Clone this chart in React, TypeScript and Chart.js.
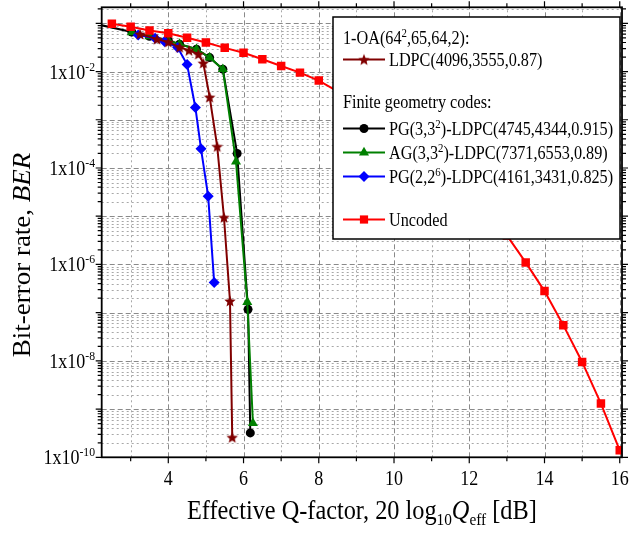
import React, { useEffect, useRef } from 'react';
import { Chart, registerables } from 'chart.js';
Chart.register(...registerables);

// ---------- data (Q-factor in dB, BER) ----------
const uncodedQ = [2.5, 3, 3.5, 4, 4.5, 5, 5.5, 6, 6.5, 7, 7.5, 8, 8.5, 9, 9.5, 10, 10.5, 11, 11.5, 12, 12.5, 13, 13.5, 14, 14.5, 15, 15.5, 16];
const uncodedBER = [9.8e-2, 8.5e-2, 7.1e-2, 6.2e-2, 5.0e-2, 4.0e-2, 3.1e-2, 2.45e-2, 1.8e-2, 1.3e-2, 9.5e-3, 6.5e-3, 3.9e-3, 2.4e-3, 1.4e-3, 7.8e-4, 4.0e-4, 1.9e-4, 8.6e-5, 3.4e-5, 1.2e-5, 4.0e-6, 1.1e-6, 2.8e-7, 5.5e-8, 9.5e-9, 1.3e-9, 1.4e-10];

const oaQ = [3.25, 3.7, 4.0, 4.3, 4.55, 4.8, 4.93, 5.1, 5.3, 5.48, 5.64, 5.7];
const oaBER = [6.0e-2, 4.7e-2, 4.1e-2, 3.2e-2, 2.75e-2, 2.3e-2, 1.5e-2, 2.95e-3, 2.8e-4, 9.5e-6, 1.75e-7, 2.6e-10];

const pg33Q = [2.0, 3.03, 3.5, 4.0, 4.3, 4.75, 5.1, 5.45, 5.83, 6.12, 6.18];
const pg33BER = [1.0e-1, 6.6e-2, 5.4e-2, 4.4e-2, 3.7e-2, 2.9e-2, 1.95e-2, 1.12e-2, 2.0e-4, 1.17e-7, 3.2e-10];

const ag33Q = [3.03, 3.5, 4.0, 4.3, 4.75, 5.1, 5.45, 5.8, 6.1, 6.25];
const ag33BER = [6.5e-2, 5.4e-2, 4.4e-2, 3.7e-2, 2.9e-2, 1.95e-2, 1.12e-2, 1.35e-4, 1.66e-7, 5.1e-10];

const pg26Q = [3.2, 3.65, 3.9, 4.25, 4.5, 4.72, 4.87, 5.06, 5.22];
const pg26BER = [5.75e-2, 4.9e-2, 4.2e-2, 3.15e-2, 1.4e-2, 1.8e-3, 2.5e-4, 2.6e-5, 4.2e-7];

const xTickLabels = ['4', '6', '8', '10', '12', '14', '16'];
const yTickExps = ['-2', '-4', '-6', '-8', '-10'];

// ---------- styling ----------
const RED = '#ff0000';
const DRED = '#800000';
const GREEN = '#008000';
const BLUE = '#0000ff';
const BLACK = '#000000';
const SERIF = '"Liberation Serif", "Times New Roman", serif';
const SQ = 0.9; // horizontal text squeeze

type Part = { t: string; s: number; it?: boolean; dy?: number };
const fontOf = (p: Part) => `${p.it ? 'italic ' : ''}${p.s}px ${SERIF}`;

function drawRich(ctx: CanvasRenderingContext2D, parts: Part[], x: number, y: number, align: 'left' | 'center' | 'right', rot = 0) {
  ctx.save();
  ctx.translate(x, y);
  ctx.scale(SQ, 1);
  if (rot) ctx.rotate(rot);
  let w = 0;
  for (const p of parts) { ctx.font = fontOf(p); w += ctx.measureText(p.t).width; }
  let cx = align === 'left' ? 0 : align === 'center' ? -w / 2 : -w;
  ctx.textBaseline = 'alphabetic';
  ctx.textAlign = 'left';
  ctx.fillStyle = '#000';
  for (const p of parts) {
    ctx.font = fontOf(p);
    ctx.fillText(p.t, cx, p.dy || 0);
    cx += ctx.measureText(p.t).width;
  }
  ctx.restore();
}

function starPath(g: CanvasRenderingContext2D, cx: number, cy: number, ro: number, ri: number) {
  g.beginPath();
  for (let i = 0; i < 10; i++) {
    const a = -Math.PI / 2 + (i * Math.PI) / 5;
    const rr = i % 2 ? ri : ro;
    g.lineTo(cx + rr * Math.cos(a), cy + rr * Math.sin(a));
  }
  g.closePath();
}

function makeStar(color: string, r: number): HTMLCanvasElement {
  const s = Math.ceil(r * 2 + 4);
  const c = document.createElement('canvas');
  c.width = s;
  c.height = s;
  const g = c.getContext('2d')!;
  starPath(g, s / 2, s / 2 + r * 0.1, r, r * 0.45);
  g.fillStyle = color;
  g.fill();
  return c;
}

function drawMarker(ctx: CanvasRenderingContext2D, kind: string, x: number, y: number, color: string, star: HTMLCanvasElement) {
  ctx.save();
  ctx.fillStyle = color;
  ctx.beginPath();
  if (kind === 'rect') {
    const h = 5.8 * Math.SQRT1_2;
    ctx.rect(x - h, y - h, 2 * h, 2 * h);
  } else if (kind === 'circle') {
    ctx.arc(x, y, 4.5, 0, Math.PI * 2);
  } else if (kind === 'triangle') {
    const r = 5.8;
    ctx.moveTo(x, y - r);
    ctx.lineTo(x + 0.866 * r, y + 0.5 * r);
    ctx.lineTo(x - 0.866 * r, y + 0.5 * r);
    ctx.closePath();
  } else if (kind === 'diamond') {
    const r = 5.5;
    ctx.moveTo(x, y - r);
    ctx.lineTo(x + r, y);
    ctx.lineTo(x, y + r);
    ctx.lineTo(x - r, y);
    ctx.closePath();
  } else if (kind === 'star') {
    ctx.drawImage(star, x - star.width / 2, y - star.height / 2);
    ctx.restore();
    return;
  }
  ctx.fill();
  ctx.restore();
}

const gridPlugin = {
  id: 'customGrid',
  beforeDatasetsDraw(chart: any) {
    const ctx: CanvasRenderingContext2D = chart.ctx;
    const a = chart.chartArea;
    const xs = chart.scales.x;
    const ys = chart.scales.y;
    ctx.save();
    ctx.beginPath();
    ctx.rect(a.left, a.top, a.right - a.left, a.bottom - a.top);
    ctx.clip();
    ctx.lineWidth = 1;
    for (let v = 3; v <= 16; v++) {
      const px = Math.round(xs.getPixelForValue(v)) + 0.5;
      const major = v % 2 === 0;
      ctx.strokeStyle = major ? '#8a8a8a' : '#a8a8a8';
      ctx.setLineDash(major ? [5, 3] : [2, 3]);
      ctx.beginPath();
      ctx.moveTo(px, a.bottom);
      ctx.lineTo(px, a.top);
      ctx.stroke();
    }
    for (let e = -10; e <= -1; e++) {
      for (let m = 1; m <= 9; m++) {
        const val = m * Math.pow(10, e);
        const py = Math.round(ys.getPixelForValue(val)) + 0.5;
        const major = m === 1;
        ctx.strokeStyle = major ? '#8a8a8a' : '#a8a8a8';
        ctx.setLineDash(major ? [5, 3] : [2, 3]);
        ctx.beginPath();
        ctx.moveTo(a.left, py);
        ctx.lineTo(a.right, py);
        ctx.stroke();
      }
    }
    ctx.restore();
  },
};

const makeOverlay = (star: HTMLCanvasElement) => ({
  id: 'overlay',
  afterDraw(chart: any) {
    const ctx: CanvasRenderingContext2D = chart.ctx;
    const a = chart.chartArea;
    const xs = chart.scales.x;
    const ys = chart.scales.y;
    ctx.save();
    ctx.strokeStyle = '#000';
    ctx.setLineDash([]);
    ctx.lineWidth = 1.2;
    ctx.beginPath();
    for (let v = 3; v <= 16; v++) {
      const px = xs.getPixelForValue(v);
      const len = v % 2 === 0 ? 6 : 4;
      ctx.moveTo(px, a.bottom);
      ctx.lineTo(px, a.bottom + len);
      ctx.moveTo(px, a.top);
      ctx.lineTo(px, a.top - len);
    }
    for (let e = -10; e <= -1; e++) {
      for (let m = 1; m <= 9; m++) {
        const val = m * Math.pow(10, e);
        if (val > ys.max) continue;
        const py = ys.getPixelForValue(val);
        const len = m === 1 ? 6 : 4;
        ctx.moveTo(a.left, py);
        ctx.lineTo(a.left - len, py);
        ctx.moveTo(a.right, py);
        ctx.lineTo(a.right + len, py);
      }
    }
    ctx.stroke();
    ctx.lineWidth = 1.8;
    ctx.strokeRect(a.left, a.top, a.right - a.left, a.bottom - a.top);
    ctx.restore();

    xTickLabels.forEach((lab) => {
      const px = xs.getPixelForValue(parseFloat(lab));
      drawRich(ctx, [{ t: lab, s: 20 }], px, a.bottom + 28, 'center');
    });
    yTickExps.forEach((ex) => {
      const py = ys.getPixelForValue(Math.pow(10, parseFloat(ex)));
      drawRich(ctx, [{ t: '1x10', s: 20 }, { t: ex, s: 13, dy: -8 }], 95, py + 7, 'right');
    });

    drawRich(
      ctx,
      [
        { t: 'Effective Q-factor, 20 log', s: 27 },
        { t: '10', s: 17, dy: 6 },
        { t: 'Q', s: 27, it: true },
        { t: 'eff', s: 17, dy: 6 },
        { t: ' [dB]', s: 27 },
      ],
      (a.left + a.right) / 2,
      519,
      'center'
    );
    drawRich(ctx, [{ t: 'Bit-error rate, ', s: 27 }, { t: 'BER', s: 27, it: true }], 29.5, 255, 'center', -Math.PI / 2);

    ctx.save();
    ctx.fillStyle = '#fff';
    ctx.fillRect(333, 17, 287, 222);
    ctx.strokeStyle = '#000';
    ctx.lineWidth = 1.5;
    ctx.strokeRect(333, 17, 287, 222);
    ctx.restore();

    drawRich(ctx, [{ t: '1-OA(64', s: 18 }, { t: '2', s: 12, dy: -7 }, { t: ',65,64,2):', s: 18 }], 343, 44, 'left');
    drawRich(ctx, [{ t: 'Finite geometry codes:', s: 18 }], 343, 107.5, 'left');

    const rows: { y: number; color: string; kind: string; parts: Part[] }[] = [
      { y: 59.5, color: DRED, kind: 'star', parts: [{ t: 'LDPC(4096,3555,0.87)', s: 18 }] },
      { y: 128.5, color: BLACK, kind: 'circle', parts: [{ t: 'PG(3,3', s: 18 }, { t: '2', s: 12, dy: -7 }, { t: ')-LDPC(4745,4344,0.915)', s: 18 }] },
      { y: 152.5, color: GREEN, kind: 'triangle', parts: [{ t: 'AG(3,3', s: 18 }, { t: '2', s: 12, dy: -7 }, { t: ')-LDPC(7371,6553,0.89)', s: 18 }] },
      { y: 176.5, color: BLUE, kind: 'diamond', parts: [{ t: 'PG(2,2', s: 18 }, { t: '6', s: 12, dy: -7 }, { t: ')-LDPC(4161,3431,0.825)', s: 18 }] },
      { y: 219.5, color: RED, kind: 'rect', parts: [{ t: 'Uncoded', s: 18 }] },
    ];
    rows.forEach((r) => {
      ctx.save();
      ctx.strokeStyle = r.color;
      ctx.lineWidth = 2;
      ctx.beginPath();
      ctx.moveTo(343, r.y);
      ctx.lineTo(385, r.y);
      ctx.stroke();
      ctx.restore();
      drawMarker(ctx, r.kind, 364, r.y, r.color, star);
      drawRich(ctx, r.parts, 389, r.y + 6, 'left');
    });
  },
});

export default function App() {
  const ref = useRef<HTMLCanvasElement>(null);
  useEffect(() => {
    const canvas = ref.current!;
    const star = makeStar(DRED, 6);
    const mk = (q: number[], b: number[]) => q.map((v, i) => ({ x: v, y: b[i] }));
    const chart = new Chart(canvas, {
      type: 'line',
      data: {
        datasets: [
          {
            label: 'Uncoded',
            data: mk(uncodedQ, uncodedBER),
            borderColor: RED,
            backgroundColor: RED,
            pointStyle: 'rect',
            pointRadius: 6,
            pointBorderWidth: 0,
            pointBackgroundColor: RED,
            borderWidth: 2,
          },
          {
            label: 'LDPC(4096,3555,0.87)',
            data: mk(oaQ, oaBER),
            borderColor: DRED,
            backgroundColor: DRED,
            pointStyle: star as any,
            pointRadius: 5,
            borderWidth: 2,
          },
          {
            label: 'PG(2,2^6)',
            data: mk(pg26Q, pg26BER),
            borderColor: BLUE,
            backgroundColor: BLUE,
            pointStyle: 'rectRot',
            pointRadius: 5.5,
            pointBorderWidth: 0,
            pointBackgroundColor: BLUE,
            borderWidth: 2,
          },
          {
            label: 'AG(3,3^2)',
            data: mk(ag33Q, ag33BER),
            borderColor: GREEN,
            backgroundColor: GREEN,
            pointStyle: 'triangle',
            pointRadius: 5.8,
            pointBorderWidth: 0,
            pointBackgroundColor: GREEN,
            borderWidth: 2,
          },
          {
            label: 'PG(3,3^2)',
            data: mk(pg33Q, pg33BER),
            borderColor: BLACK,
            backgroundColor: BLACK,
            pointStyle: 'circle',
            pointRadius: 4.5,
            pointBorderWidth: 0,
            pointBackgroundColor: BLACK,
            borderWidth: 2,
          },
        ],
      },
      options: {
        responsive: false,
        animation: false,
        devicePixelRatio: 1,
        layout: { padding: { left: 101.7, right: 6, top: 7.3, bottom: 78.7 } },
        elements: { line: { tension: 0 } },
        scales: {
          x: { type: 'linear', min: 2.23, max: 16.06, display: false },
          y: { type: 'logarithmic', min: 1e-10, max: 0.215, display: false },
        },
        plugins: { legend: { display: false }, tooltip: { enabled: false } },
      },
      plugins: [gridPlugin, makeOverlay(star)],
    } as any);
    return () => chart.destroy();
  }, []);
  return (
    <div style={{ position: 'fixed', left: 0, top: 0, width: 629, height: 536, background: '#fff' }}>
      <canvas ref={ref} width={629} height={536} style={{ display: 'block', width: 629, height: 536 }} />
    </div>
  );
}
